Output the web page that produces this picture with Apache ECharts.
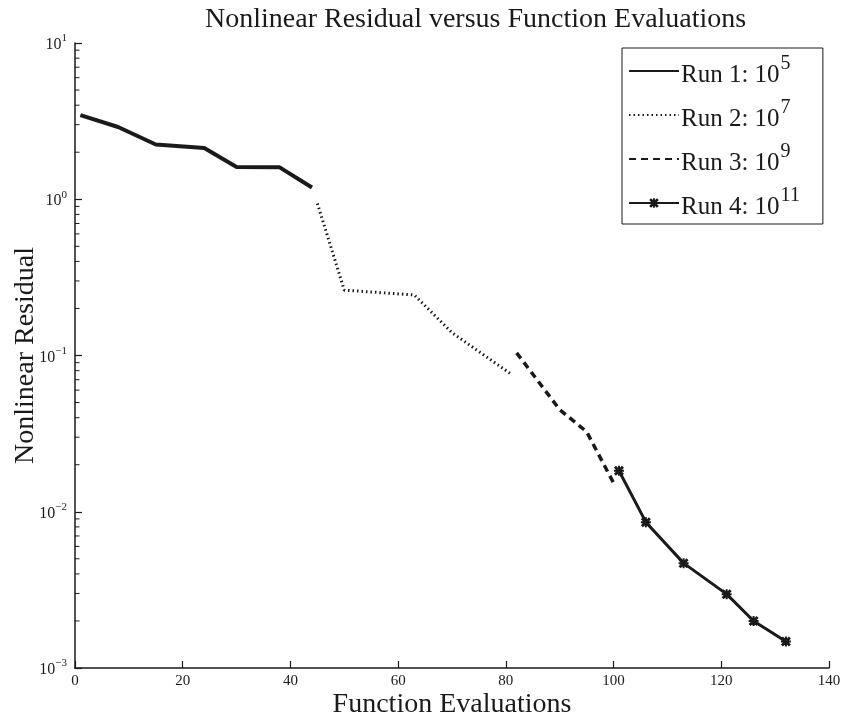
<!DOCTYPE html>
<html>
<head>
<meta charset="utf-8">
<script src="https://cdn.jsdelivr.net/npm/echarts@6/dist/echarts.min.js"></script>
<style>html,body{margin:0;padding:0;background:#fff;}#c{width:843px;height:721px;}</style>
</head>
<body>
<div id="c"></div>
<script>
// ---- data ----
const runNames = ['Run 1: 10', 'Run 2: 10', 'Run 3: 10', 'Run 4: 10'];
const runExponents = ['5', '7', '9', '11'];
const run1X = [1, 8, 15, 24, 30, 38, 44];
const run1Y = [3.45, 2.90, 2.24, 2.13, 1.61, 1.60, 1.19];
const run2X = [45, 50, 63, 70, 81];
const run2Y = [0.94, 0.262, 0.244, 0.14, 0.0759];
const run3X = [82, 90, 95, 100];
const run3Y = [0.104, 0.045, 0.0325, 0.0153];
const run4X = [101, 106, 113, 121, 126, 132];
const run4Y = [0.0183, 0.00858, 0.00469, 0.00297, 0.00200, 0.00148];
const xTicks = [0, 20, 40, 60, 80, 100, 120, 140];
const yDecades = [0.001, 0.01, 0.1, 1, 10];
const minorMultipliers = [2, 3, 4, 5, 6, 7, 8, 9];

const ink = '#1a1a1a';
const serif = '"Liberation Serif", "DejaVu Serif", serif';
const pairs = (xs, ys) => xs.map((x, i) => [x, ys[i]]);
const minorTicks = [];
yDecades.slice(0, -1).forEach(d => minorMultipliers.forEach(m => minorTicks.push([xTicks[0], d * m])));
const star = 'path://M2,0 L5,3 L8,0 L10,2 L7,5 L10,8 L8,10 L5,7 L2,10 L0,8 L3,5 L0,2 Z M4,0 L6,0 L6,4 L10,4 L10,6 L6,6 L6,10 L4,10 L4,6 L0,6 L0,4 L4,4 Z';
const seriesName = i => runNames[i] + runExponents[i];

const chart = echarts.init(document.getElementById('c'), null, {renderer: 'canvas'});
const lineSeries = (i, data, lineType, width, symbol) => ({
  name: seriesName(i),
  type: 'line',
  data: data,
  symbol: symbol || 'none',
  symbolSize: 10,
  showSymbol: !!symbol,
  itemStyle: {color: ink},
  lineStyle: {color: ink, width: width, type: lineType, cap: 'butt'},
  animation: false,
  z: 3
});

chart.setOption({
  backgroundColor: '#fff',
  animation: false,
  title: {
    text: 'Nonlinear Residual versus Function Evaluations',
    left: 200, top: 1,
    textStyle: {fontFamily: serif, fontWeight: 'normal', fontSize: 28, color: ink}
  },
  grid: {left: 75, right: 14, top: 43, bottom: 53, containLabel: false, outerBoundsMode: 'none'},
  legend: {
    orient: 'vertical',
    left: 622, top: 48,
    padding: [6, 23, 4, 6],
    itemGap: 10,
    itemWidth: 50, itemHeight: 12,
    borderColor: ink, borderWidth: 1,
    backgroundColor: '#fff',
    data: runNames.map((n, i) => i < 3
      ? {name: seriesName(i), itemStyle: {opacity: 0}}
      : {name: seriesName(i)}),
    formatter: name => {
      const i = runNames.findIndex((n, k) => seriesName(k) === name);
      return '{b|' + runNames[i] + '}{s|' + runExponents[i] + '}';
    },
    textStyle: {
      fontFamily: serif, color: ink, padding: [0, 0, 0, -3],
      rich: {
        b: {fontFamily: serif, fontSize: 25, color: ink, lineHeight: 34, verticalAlign: 'bottom'},
        s: {fontFamily: serif, fontSize: 20, color: ink, lineHeight: 34, verticalAlign: 'top', padding: [0, 0, 12, 1]}
      }
    }
  },
  xAxis: {
    type: 'value', min: xTicks[0], max: xTicks[xTicks.length - 1], interval: 20,
    name: 'Function Evaluations', nameLocation: 'middle', nameGap: 23, nameMoveOverlap: false,
    nameTextStyle: {fontFamily: serif, fontSize: 28, color: ink},
    axisLine: {lineStyle: {color: ink, width: 1.5}},
    axisTick: {inside: true, length: 7, lineStyle: {color: ink, width: 1.2}},
    axisLabel: {fontFamily: serif, fontSize: 15, color: ink, margin: 6},
    splitLine: {show: false}
  },
  yAxis: {
    type: 'log', logBase: 10, min: yDecades[0], max: yDecades[yDecades.length - 1],
    name: 'Nonlinear Residual', nameLocation: 'middle', nameGap: 35, nameMoveOverlap: false,
    nameTextStyle: {fontFamily: serif, fontSize: 28, color: ink},
    axisLine: {show: true, lineStyle: {color: ink, width: 1.5}},
    axisTick: {inside: true, length: 7, lineStyle: {color: ink, width: 1.2}},
    axisLabel: {
      margin: 8,
      formatter: v => '{b|10}{s|' + String(Math.round(Math.log10(v))).replace('-', '\u2212') + '}',
      rich: {
        b: {fontFamily: serif, fontSize: 16, color: ink, verticalAlign: 'bottom', lineHeight: 20},
        s: {fontFamily: serif, fontSize: 11, color: ink, verticalAlign: 'top', lineHeight: 20, padding: [0, 0, 10, 0]}
      }
    },
    splitLine: {show: false}
  },
  series: [
    lineSeries(0, pairs(run1X, run1Y), 'solid', 4),
    lineSeries(1, pairs(run2X, run2Y), [1.5, 3], 3),
    lineSeries(2, pairs(run3X, run3Y), [7, 5], 3.5),
    lineSeries(3, pairs(run4X, run4Y), 'solid', 3, star),
    {
      type: 'custom',
      silent: true,
      animation: false,
      data: minorTicks,
      renderItem: (params, api) => {
        const p = api.coord([api.value(0), api.value(1)]);
        return {type: 'line', shape: {x1: p[0], y1: p[1], x2: p[0] + 4.5, y2: p[1]}, style: {stroke: ink, lineWidth: 1}};
      },
      z: 2
    }
  ]
});
</script>
</body>
</html>
